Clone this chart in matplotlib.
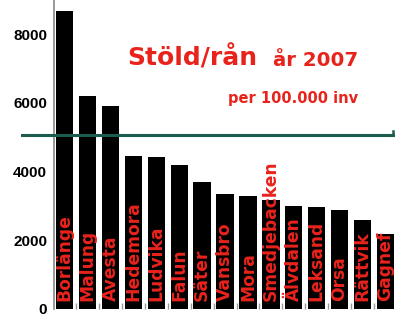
import matplotlib
matplotlib.use("Agg")
import matplotlib.pyplot as plt
import matplotlib.transforms as mtransforms
import numpy as np

plt.rcParams['font.family'] = ['Liberation Sans', 'DejaVu Sans']

towns = ["Borlänge", "Malung", "Avesta", "Hedemora", "Ludvika", "Falun", "Säter",
         "Vansbro", "Mora", "Smedjebacken", "Älvdalen", "Leksand", "Orsa", "Rättvik", "Gagnef"]
values = [8680, 6190, 5900, 4450, 4420, 4180, 3700, 3340, 3300, 3170, 3010, 2980, 2890, 2590, 2180]
average = 5060
yticks = [0, 2000, 4000, 6000, 8000]

red = "#e8231c"
wide = ['DejaVu Sans']
fig = plt.figure(figsize=(3.98, 3.28), dpi=100)
ax = fig.add_axes([54/398, 19/328, 344/398, 309/328])

x = np.arange(len(towns))
ax.bar(x, values, width=0.76, color="black", zorder=2)
ax.set_xlim(-0.467, 14.55)
ax.set_ylim(0, 9000)

ax.set_yticks(yticks)
ax.set_yticklabels([str(t) for t in yticks], fontsize=11, fontweight="bold")
ax.tick_params(axis="y", length=0, pad=5)
ax.set_xticks([])
ax.set_xticks(x[:-1] + 0.5, minor=True)
ax.tick_params(axis="x", which="minor", direction="in", length=4, color="#999999", width=1)
for s in ["top", "right", "bottom"]:
    ax.spines[s].set_visible(False)
ax.spines["left"].set_color("#888888")
ax.spines["left"].set_linewidth(1.2)

for xi, name in zip(x, towns):
    ax.annotate(name, (xi, 0), xytext=(0, 6), textcoords="offset points",
                rotation=90, ha="center", va="bottom", color=red, family=wide,
                fontsize=12.3, fontweight="bold", zorder=3)

trans = mtransforms.blended_transform_factory(ax.transAxes, ax.transData)
ax.plot([-0.093, 0.985], [average, average], transform=trans, color="#1b5c4e",
        lw=2.2, clip_on=False, zorder=4)
ax.plot([0.985, 0.985], [average, average + 120], transform=trans, color="#1b5c4e",
        lw=1.8, clip_on=False, zorder=4)

fig.text(127/398, 1 - 66/328, "Stöld/rån", color=red, fontsize=18, fontweight="bold",
         family=wide, ha="left", va="baseline")
fig.text(273/398, 1 - 66/328, "år 2007", color=red, fontsize=14.2, fontweight="bold",
         family=wide, ha="left", va="baseline")
fig.text(228/398, 1 - 103/328, "per 100.000 inv", color=red, fontsize=10.5, fontweight="bold",
         family=wide, ha="left", va="baseline")

fig.savefig("out.png", dpi=100)
